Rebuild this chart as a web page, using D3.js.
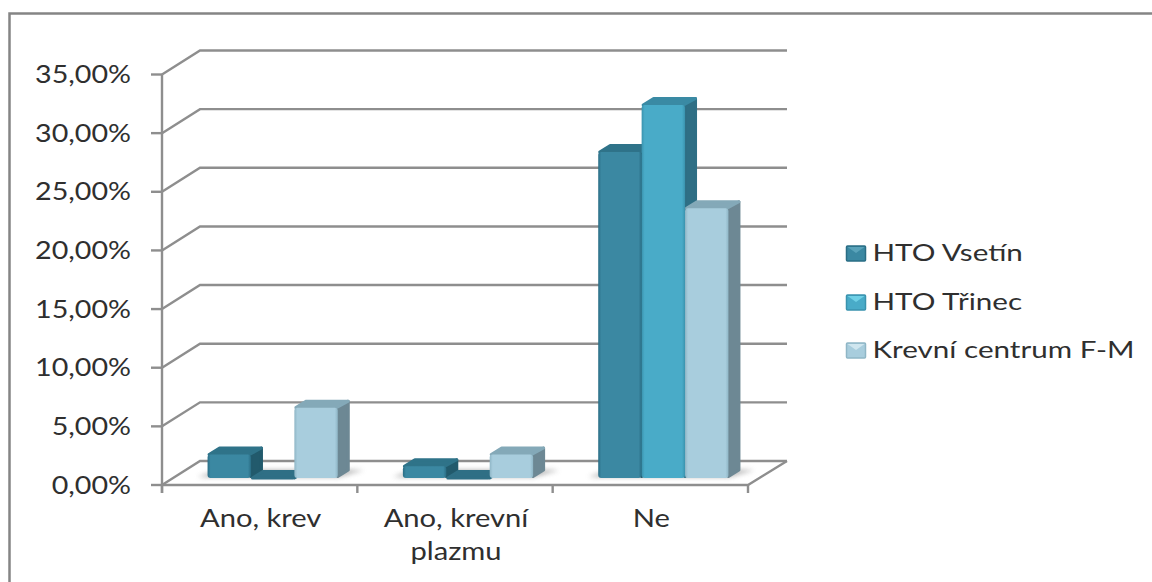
<!DOCTYPE html>
<html>
<head>
<meta charset="utf-8">
<script src="https://cdn.jsdelivr.net/npm/d3@7"></script>
<style>
  html, body { margin: 0; padding: 0; background: #fff; }
  svg { display: block; }
  text { font-family: Lato, sans-serif; fill: #2f2f2f; }
</style>
</head>
<body>
<svg id="chart" width="1152" height="582"></svg>
<script>
const categories = [["Ano, krev"], ["Ano, krevní", "plazmu"], ["Ne"]];
const seriesNames = ["HTO Vsetín", "HTO Třinec", "Krevní centrum F-M"];
const vsetin = [2, 1, 27.8];
const trinec = [0, 0, 31.8];
const krevni = [6, 2, 23];
const seriesValues = [vsetin, trinec, krevni];
const tickValues = [0, 5, 10, 15, 20, 25, 30, 35];
const seriesColors = [
  { front: "#3b88a2", edge: "#2a6d85", top: "#2f7389", side: "#225a6c", glow: "#5aa3ba" },
  { front: "#49abc8", edge: "#3a93ae", top: "#3a8aa4", side: "#2f6f85", glow: "#6fd0e6" },
  { front: "#a8cddd", edge: "#8fb6c6", top: "#84a9b8", side: "#6d8894", glow: "#cfe6ef" },
];

const svg = d3.select("#chart");
const defs = svg.append("defs");

const x0 = 162, x1 = 748, yBase = 485, yTop = 74.5;
const wallDx = 38, wallDy = -24;
// bars stand on the middle strip of the floor
const barDx = 13, barDy = -7, depthDx = 12, depthDy = -8;

const y = d3.scaleLinear().domain([0, 35]).range([yBase, yTop]);
const xGroup = d3.scaleBand().domain(d3.range(categories.length)).range([x0, x1])
  .paddingInner(65 / 195).paddingOuter(32.5 / 195);
const xBar = d3.scaleBand().domain(d3.range(seriesNames.length)).range([0, xGroup.bandwidth()]);

const axisColor = "#8e8e8e";
const line = d3.line();

// frame round the whole chart
svg.append("path")
  .attr("d", "M9.5,582V13.5H1152")
  .attr("fill", "none").attr("stroke", "#858585").attr("stroke-width", 2.5);

// gridlines run across the back wall and fold down the side wall
const grid = svg.append("g").attr("fill", "none").attr("stroke", axisColor).attr("stroke-width", 2.4);
grid.selectAll("path").data(tickValues).join("path")
  .attr("d", d => line([[x0, y(d)], [x0 + wallDx, y(d) + wallDy], [x1 + wallDx + 1, y(d) + wallDy]]));

// floor front edge and right edge
grid.append("path").attr("d", line([[x0, yBase], [x1, yBase], [x1 + wallDx + 1, yBase + wallDy]]));

// value axis with ticks
const yAxis = svg.append("g").attr("fill", "none").attr("stroke", axisColor).attr("stroke-width", 2.4);
yAxis.append("path").attr("d", line([[x0, yBase + 8], [x0, yTop]]));
yAxis.selectAll(".tick").data(tickValues).join("path").attr("class", "tick")
  .attr("d", d => line([[x0 - 11, y(d)], [x0, y(d)]]));
yAxis.selectAll(".xtick").data(d3.range(categories.length + 1)).join("path").attr("class", "xtick")
  .attr("d", i => line([[x0 + i * xGroup.step(), yBase], [x0 + i * xGroup.step(), yBase + 8]]));

// the labels are set in a wide cut, so stretch the glyphs sideways
svg.append("g").selectAll("text").data(tickValues).join("text")
  .attr("transform", d => `translate(131,${y(d) + 8.5}) scale(1.17,1)`)
  .attr("text-anchor", "end").attr("font-size", 24.5)
  .text(d => d3.format(".2f")(d).replace(".", ",") + "%");

// soft shadow on the floor behind each cluster
defs.append("filter").attr("id", "soft").attr("x", "-30%").attr("y", "-100%").attr("width", "160%").attr("height", "300%")
  .append("feGaussianBlur").attr("stdDeviation", 2.5);

const bars = [];
categories.forEach((c, i) => seriesValues.forEach((vals, s) => bars.push({ i, s, v: vals[i] })));

svg.append("g").selectAll("path").data(categories).join("path")
  .attr("filter", "url(#soft)").attr("fill", "#777").attr("opacity", 0.6)
  .attr("d", (c, i) => {
    const left = xGroup(i) + barDx, right = left + xGroup.bandwidth();
    return line([[left - 10, yBase + barDy - 1], [right, yBase + barDy - 1],
      [right + depthDx + 14, yBase + barDy + depthDy], [left + depthDx, yBase + barDy + depthDy]]) + "Z";
  });

seriesColors.forEach((c, s) => {
  const g = defs.append("linearGradient").attr("id", "front" + s);
  g.append("stop").attr("offset", "0").attr("stop-color", c.edge);
  g.append("stop").attr("offset", "0.07").attr("stop-color", c.front);
  g.append("stop").attr("offset", "0.93").attr("stop-color", c.front);
  g.append("stop").attr("offset", "1").attr("stop-color", c.edge);
});

// draw each cluster left to right so nearer sides are covered correctly
const barG = svg.append("g").selectAll("g").data(bars).join("g");
barG.each(function (d) {
  const g = d3.select(this), c = seriesColors[d.s];
  const w = xBar.bandwidth();
  const left = xGroup(d.i) + xBar(d.s) + barDx, right = left + w;
  const base = yBase + barDy, top = base - (yBase - y(d.v));
  // rounded joins give the bevelled look of the box corners
  const face = (pts, fill) => g.append("path").attr("d", line(pts) + "Z").attr("fill", fill)
    .attr("stroke", fill).attr("stroke-width", 3).attr("stroke-linejoin", "round");
  const inset = 1.5;
  face([[right, base - inset], [right + depthDx - inset, base + depthDy],
    [right + depthDx - inset, top + depthDy + inset], [right, top]], c.side);
  face([[left + inset, top], [left + depthDx, top + depthDy + inset],
    [right + depthDx - inset, top + depthDy + inset], [right - inset, top]], d.v === 0 ? c.side : c.top);
  if (d.v > 0) {
    g.append("rect").attr("x", left).attr("y", top).attr("width", w).attr("height", base - top)
      .attr("rx", 3).attr("fill", `url(#front${d.s})`);
  }
});

// category labels, wrapped to two lines where needed
const catLabels = svg.append("g").selectAll("text").data(categories).join("text")
  .attr("text-anchor", "middle").attr("font-size", 24.5)
  .attr("transform", (c, i) => `translate(${xGroup(i) + xGroup.bandwidth() / 2 + 1},527) scale(1.19,1)`);
catLabels.selectAll("tspan").data(c => c).join("tspan")
  .attr("x", 0).attr("dy", (l, i) => i ? 33 : 0).text(l => l);

// legend keys carry the same bevel as the boxes, a light wedge under the top edge
const legendY = [253, 302, 350];
const legend = svg.append("g").selectAll("g").data(seriesNames).join("g")
  .attr("transform", (n, i) => `translate(846.5,${legendY[i]})`);
legend.append("rect").attr("x", 0).attr("y", -7).attr("width", 19).attr("height", 15).attr("rx", 1)
  .attr("fill", (n, i) => seriesColors[i].front).attr("stroke", (n, i) => seriesColors[i].edge).attr("stroke-width", 1.5);
legend.append("path").attr("d", "M1,-6H18L9.5,0Z").attr("fill", (n, i) => seriesColors[i].glow);
legend.append("text").attr("transform", "translate(26,8) scale(1.26,1)").attr("font-size", 23.5).text(n => n);
</script>
</body>
</html>
